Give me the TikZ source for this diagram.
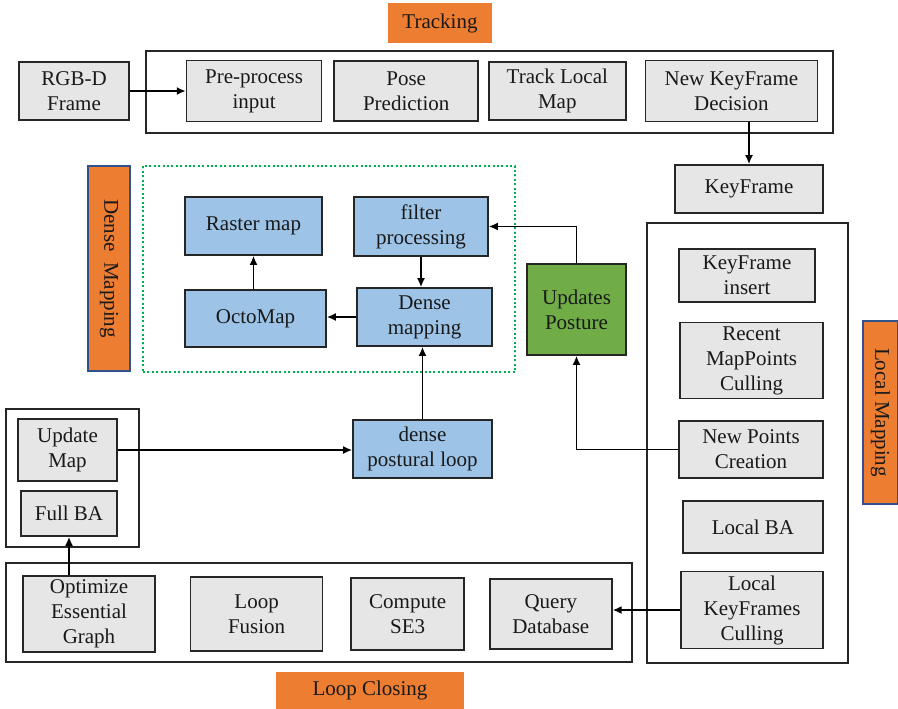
\documentclass[tikz,border=0pt]{standalone}
\usepackage{fontspec}
\setmainfont{Liberation Serif}
\newfontfamily\boxfont{Liberation Serif}
\usetikzlibrary{positioning,arrows.meta}
\definecolor{boxgray}{HTML}{E7E6E6}
\definecolor{boxblue}{HTML}{9DC3E6}
\definecolor{boxgreen}{HTML}{70AD47}
\definecolor{tagorange}{HTML}{ED7D31}
\definecolor{tagblue}{HTML}{2F528F}
\definecolor{dotgreen}{HTML}{00B050}
\tikzset{
    procbox/.style={
        rectangle,                % caja de proceso
        draw=black!85,            % borde casi negro
        fill=#1,                  % relleno segun el modulo
        line width=0.8pt,
        align=center,             % texto centrado en dos lineas
        inner sep=2pt
    },
    groupbox/.style={
        rectangle,                % marco que agrupa un hilo
        draw=black!85,
        line width=0.7pt,
        inner sep=0pt             % solo cuenta el tamano minimo
    },
    tagbox/.style={
        rectangle,                % etiqueta naranja del hilo
        fill=tagorange,
        draw=#1,                  % borde: naranja o azul oscuro
        line width=0.6pt,
        inner sep=2pt
    }
}
\begin{document}
\begin{tikzpicture}[
        x=0.5pt, y=-0.5pt,
        every node/.style={font=\boxfont\fontsize{10.5}{12.5}\selectfont, text=black!90},
        arrow/.style={-{Latex[length=4.5pt,width=4pt]},line width=0.9pt}
    ]
    \useasboundingbox (0,0) rectangle (898,708);

    % marcos
    \node[groupbox, minimum width=343.5pt, minimum height=41pt] (trackgroup) at (489.5,92) {};
    \node[groupbox, minimum width=100.5pt, minimum height=220pt] (localgroup) at (747.5,443) {};
    \node[groupbox, minimum width=66.5pt, minimum height=69pt] (fullgroup) at (72.5,478) {};
    \node[groupbox, minimum width=313pt, minimum height=49.5pt] (loopgroup) at (319,612.5) {};
    \node[groupbox, draw=dotgreen, line width=1pt, dash pattern=on 1pt off 1.2pt,
          minimum width=186pt, minimum height=103pt] (densegroup) at (329,269) {};

    % etiquetas
    \node[tagbox=tagorange, minimum width=51pt, minimum height=19pt] (tracktag) at (440,23) {Tracking};
    \node[tagbox=tagblue, rotate=-90, minimum width=102.5pt, minimum height=21pt] (densetag) at (109,268.5) {Dense\ \ Mapping};
    \node[tagbox=tagblue, rotate=-90, minimum width=91.5pt, minimum height=17.5pt] (localtag) at (880.5,412.5) {Local Mapping};
    \node[tagbox=tagorange, minimum width=93pt, minimum height=17.5pt] (looptag) at (370,690.5) {Loop Closing};

    % Tracking
    \node[procbox=boxgray, minimum width=55pt, minimum height=29pt] (rgbd) at (74,91) {RGB-D\\Frame};
    \node[procbox=boxgray, minimum width=67.5pt, minimum height=30.5pt, right=28pt of rgbd] (preprocess) {Pre-process\\input};
    \node[procbox=boxgray, minimum width=72pt, minimum height=30pt, right=5.5pt of preprocess] (pose) {Pose\\Prediction};
    \node[procbox=boxgray, minimum width=68.5pt, minimum height=29pt, right=4.5pt of pose] (tracklocal) {Track Local\\Map};
    \node[procbox=boxgray, minimum width=86pt, minimum height=30.5pt, right=9pt of tracklocal] (kfdecision) {New KeyFrame\\Decision};
    \node[procbox=boxgray, minimum width=74pt, minimum height=24pt] (keyframe) at (749,189) {KeyFrame};

    % Dense Mapping
    \node[procbox=boxblue, minimum width=68.5pt, minimum height=29pt] (raster) at (253.5,226) {Raster map};
    \node[procbox=boxblue, minimum width=67pt, minimum height=29.5pt] (filter) at (421,226.5) {filter\\processing};
    \node[procbox=boxblue, minimum width=70.5pt, minimum height=28.5pt] (octomap) at (255.5,318.5) {OctoMap};
    \node[procbox=boxblue, minimum width=67.5pt, minimum height=29pt] (densemap) at (424.5,317) {Dense\\mapping};
    \node[procbox=boxgreen, minimum width=49.5pt, minimum height=45.5pt] (updates) at (576.5,309.5) {Updates\\Posture};
    \node[procbox=boxblue, minimum width=69.5pt, minimum height=29pt] (postural) at (422.5,449) {dense\\postural loop};

    % Local Mapping
    \node[procbox=boxgray, minimum width=68pt, minimum height=26.5pt] (kfinsert) at (747,275.5) {KeyFrame\\insert};
    \node[procbox=boxgray, minimum width=71.5pt, minimum height=36.5pt] (recent) at (751.5,360.5) {Recent\\MapPoints\\Culling};
    \node[procbox=boxgray, minimum width=72pt, minimum height=28.5pt] (newpoints) at (751,449.5) {New Points\\Creation};
    \node[procbox=boxgray, minimum width=70pt, minimum height=26pt] (localba) at (753,527) {Local BA};
    \node[procbox=boxgray, minimum width=71pt, minimum height=38pt] (kfculling) at (752,610) {Local\\KeyFrames\\Culling};

    % Loop Closing
    \node[procbox=boxgray, minimum width=49.5pt, minimum height=31pt] (updatemap) at (67.5,450) {Update\\Map};
    \node[procbox=boxgray, minimum width=48pt, minimum height=22.5pt] (fullba) at (69,513.5) {Full BA};
    \node[procbox=boxgray, minimum width=66pt, minimum height=37pt] (optimize) at (89,614) {Optimize\\Essential\\Graph};
    \node[procbox=boxgray, minimum width=66pt, minimum height=37pt, right=17pt of optimize] (fusion) {Loop\\Fusion};
    \node[procbox=boxgray, minimum width=56.5pt, minimum height=36pt, right=13.5pt of fusion] (compute) {Compute\\SE3};
    \node[procbox=boxgray, minimum width=61pt, minimum height=35pt, right=12pt of compute] (query) {Query\\Database};

    \draw[arrow] (rgbd.east) -- (rgbd.east -| preprocess.west);
    \draw[arrow] (keyframe.north |- kfdecision.south) -- (keyframe.north);
    \draw[arrow] (updates.north) |- (filter.east);
    \draw[arrow] (filter.south) -- (filter.south |- densemap.north);
    \draw[arrow] (densemap.west) -- (densemap.west -| octomap.east);
    \draw[arrow] (raster.south |- octomap.north) -- (raster.south);
    \draw[arrow] (postural.north) -- (postural.north |- densemap.south);
    \draw[arrow] (updatemap.east) -- (updatemap.east -| postural.west);
    \draw[arrow] (newpoints.west) -| (updates.south);
    \draw[arrow] (fullba.south |- optimize.north) -- (fullba.south);
    \draw[arrow] (kfculling.west) -- (kfculling.west -| query.east);
\end{tikzpicture}
\end{document}
